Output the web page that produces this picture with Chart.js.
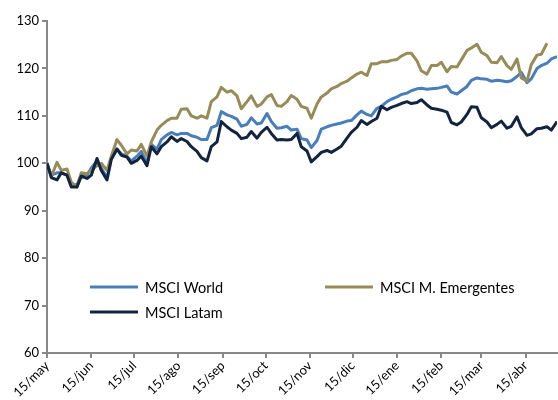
<!DOCTYPE html>
<html>
<head>
<meta charset="utf-8">
<script src="https://cdn.jsdelivr.net/npm/chart.js@4.4.1/dist/chart.umd.min.js"></script>
<style>
  body { margin: 0; background: #fff; }
  #wrap { width: 558px; height: 400px; }
</style>
</head>
<body>
<div id="wrap"><canvas id="chart"></canvas></div>
<script>
// Days counted from 15/may
const days = [
  0, 3, 7, 10, 14, 17, 21, 24, 28, 31,
  35, 38, 42, 45, 49, 52, 56, 59, 63, 66,
  70, 73, 77, 80, 84, 87, 91, 94, 98, 101,
  105, 108, 112, 115, 119, 122, 126, 129, 133, 136,
  140, 143, 147, 150, 154, 157, 161, 164, 168, 171,
  175, 178, 182, 185, 189, 192, 196, 199, 203, 206,
  210, 213, 217, 220, 224, 227, 231, 234, 238, 241,
  245, 248, 252, 255, 259, 262, 266, 269, 273, 276,
  280, 283, 287, 290, 294, 297, 301, 304, 308, 311,
  315, 318, 322, 325, 329, 332, 336, 339, 343, 346,
  350, 353, 357
];

const world = [
  100, 97.5, 98, 98, 97.5, 95.5, 95.5, 97.5, 97.5, 99,
  100.5, 99, 97, 101, 103, 102, 101.5, 100.5, 101.5, 102.5,
  100, 104, 103, 105, 106, 106.5, 106, 106.3, 106.3, 105.8,
  105.5, 105, 105, 107.5, 108, 110.9, 110.2, 109.9, 109.3, 107.8,
  108.2, 109.6, 108.3, 108.5, 110.5, 108.8, 107.4, 107.5, 107.8, 107,
  107.2, 105.2, 104.9, 103.3, 104.8, 107.2, 107.7, 108, 108.3, 108.5,
  108.9, 109, 110.2, 111, 110.3, 110, 111.6, 112, 113, 113.5,
  114, 114.5, 114.8, 115.3, 115.7, 115.8, 115.6, 115.7, 115.8, 116,
  116.3, 115, 114.6, 115.3, 116.2, 117.5, 118, 117.8, 117.7, 117.3,
  117.5, 117.4, 117.2, 117.4, 118.3, 119.2, 117, 117.8, 120, 120.6,
  121.1, 122, 122.5
];

const emergentes = [
  100, 97.2, 100.2, 98.5, 98.8, 96, 95, 98, 97.8, 98.5,
  99.5, 100, 98.5, 101.5, 105, 103.8, 102, 102.8, 102.6, 104,
  101.5, 104.5, 107, 108, 109, 109.5, 109.5, 111.4, 111.5, 110,
  109.5, 110, 109.5, 113, 114, 116, 115, 115.3, 114.2, 111.5,
  113, 114.2, 112, 112.5, 114, 114.5, 112.2, 112, 113, 114.3,
  113.5, 112, 111.6, 109.5, 112.5, 114, 114.8, 115.7, 116.2, 116.8,
  117.3, 118, 118.8, 119.2, 118.5, 121, 121, 121.4, 121.4, 121.7,
  121.9, 122.6, 123.2, 123.2, 121.6, 119.5, 118.8, 120.6, 120.6, 121.3,
  119.3, 120.4, 120.3, 121.8, 123.8, 124.3, 125.1, 123.4, 122.7, 121.3,
  121.2, 122.5, 120.6, 119.8, 122, 118, 117.3, 120.8, 122.8, 123,
  125.3, null, null
];

const latam = [
  100, 97, 96.5, 98, 97.5, 95, 95, 97.3, 96.8, 97.5,
  101, 98.5, 96.5, 100.8, 103, 101.7, 101.3, 100, 100.6, 101.5,
  99.5, 103.5, 102, 103.5, 104.5, 105.6, 104.6, 105.2, 104.6, 103.5,
  102.5, 101.2, 100.5, 103.5, 104.5, 108.8, 107.7, 107, 106.3, 105.2,
  105.5, 106.7, 105.3, 106.5, 107.6, 106.3, 104.9, 105, 104.9, 105,
  106.3, 103.5, 102.6, 100.3, 101.4, 102.3, 102.7, 102.3, 103, 103.6,
  105.3, 106.5, 107.6, 109, 108.2, 108.8, 109.5, 112, 111.3, 111.8,
  112.2, 112.6, 113, 112.6, 112.8, 113.4, 112.3, 111.6, 111.4, 111.2,
  110.8, 108.6, 108.1, 108.7, 110.3, 111.9, 111.8, 109.6, 108.7, 107.5,
  108.2, 108.9, 107.4, 107.8, 109.8, 107.5, 105.9, 106.2, 107.3, 107.4,
  107.7, 107, 108.8
];

const tickDays = [0, 31, 61, 92, 123, 153, 184, 214, 245, 276, 304, 335];
const tickLabels = ['15/may', '15/jun', '15/jul', '15/ago', '15/sep', '15/oct',
  '15/nov', '15/dic', '15/ene', '15/feb', '15/mar', '15/abr'];

const FONT = "Lato, 'Liberation Sans', sans-serif";

function toPoints(values) {
  return days.map((d, i) => ({ x: d, y: values[i] }));
}

// legend drawn inside the plot area
const innerLegend = {
  id: 'innerLegend',
  afterDraw(chart, args, opts) {
    const ctx = chart.ctx;
    ctx.save();
    ctx.font = '14.5px ' + FONT;
    ctx.textBaseline = 'middle';
    ctx.fillStyle = '#000';
    opts.spots.forEach((spot, i) => {
      const ds = chart.data.datasets[i];
      ctx.strokeStyle = ds.borderColor;
      ctx.lineWidth = 3;
      ctx.beginPath();
      ctx.moveTo(spot.x, spot.y);
      ctx.lineTo(spot.x + 48, spot.y);
      ctx.stroke();
      ctx.fillText(ds.label, spot.x + 55, spot.y + 1);
    });
    ctx.restore();
  }
};

new Chart(document.getElementById('chart'), {
  type: 'line',
  data: {
    datasets: [
      { label: 'MSCI World', data: toPoints(world), borderColor: '#4a7ebb', order: 2 },
      { label: 'MSCI M. Emergentes', data: toPoints(emergentes), borderColor: '#978c58', order: 1 },
      { label: 'MSCI Latam', data: toPoints(latam), borderColor: '#13243f', order: 0 }
    ]
  },
  options: {
    responsive: true,
    maintainAspectRatio: false,
    animation: false,
    layout: { padding: { top: 21, right: 1, left: 0, bottom: 0 } },
    elements: {
      line: { borderWidth: 3, tension: 0, borderJoinStyle: 'round' },
      point: { radius: 0 }
    },
    plugins: {
      legend: { display: false },
      tooltip: { enabled: false },
      innerLegend: {
        spots: [{ x: 90, y: 287 }, { x: 325, y: 287 }, { x: 90, y: 312 }]
      }
    },
    scales: {
      x: {
        type: 'linear',
        min: 0,
        max: 357,
        afterBuildTicks: s => { s.ticks = tickDays.map(v => ({ value: v })); },
        afterFit: s => { s.height = 47; },
        border: { color: '#888', width: 2 },
        grid: { drawOnChartArea: false, tickLength: 5, color: '#888', lineWidth: 2 },
        ticks: {
          autoSkip: false,
          minRotation: 45,
          maxRotation: 45,
          padding: 0,
          color: '#000',
          font: { family: FONT, size: 13 },
          callback: v => tickLabels[tickDays.indexOf(v)]
        }
      },
      y: {
        min: 60,
        max: 130,
        afterFit: s => { s.width = 47; },
        border: { color: '#888', width: 2 },
        grid: { drawOnChartArea: false, tickLength: 5, color: '#888', lineWidth: 2 },
        ticks: {
          stepSize: 10,
          padding: 3,
          color: '#000',
          font: { family: FONT, size: 13 }
        }
      }
    }
  },
  plugins: [innerLegend]
});
</script>
</body>
</html>
